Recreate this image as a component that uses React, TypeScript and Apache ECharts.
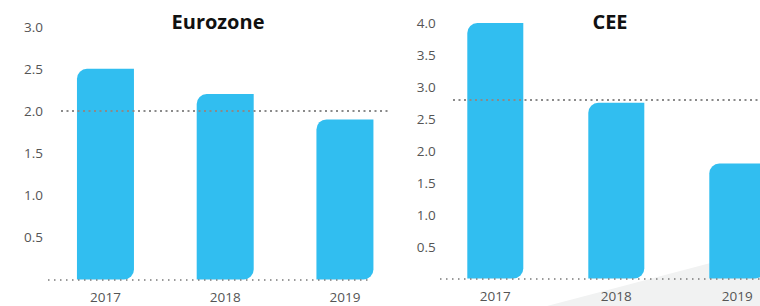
import React, { useEffect, useRef } from "react";
import * as echarts from "echarts";

// ---- data ----
const categories = ["2017", "2018", "2019"];
const eurozoneValues = [2.5, 2.2, 1.9];
const ceeValues = [4.0, 2.75, 1.8];
const eurozoneReference = 2.0;
const ceeReference = 2.8;
const eurozoneAxisMax = 3.0;
const ceeAxisMax = 4.0;
const tickStep = 0.5;
const panelTitles = ["Eurozone", "CEE"];

// ---- styles ----
const BAR_COLOR = "#31bef0";
const LABEL_COLOR = "#555555";
const FONT = "Open Sans";

export default function App() {
  const ref = useRef<HTMLDivElement>(null);

  useEffect(() => {
    if (!ref.current) return;
    const chart = echarts.init(ref.current, undefined, { renderer: "svg" });

    const yLabel = (margin: number) => ({
      margin,
      fontFamily: FONT,
      fontSize: 13.5,
      color: LABEL_COLOR,
      formatter: (v: number) => (v === 0 ? "" : v.toFixed(1)),
    });

    const refStyle = { color: "#8a8a8a", width: 2, type: [2, 3.5] };
    const baseStyle = { color: "#7a7a7a", width: 1.5, type: [1.5, 4.5] };

    const markLines = (
      value: number,
      r0: number,
      r1: number,
      b0: number,
      b1: number
    ) => ({
      symbol: "none",
      silent: true,
      label: { show: false },
      data: [
        [
          { x: r0, yAxis: value, lineStyle: refStyle },
          { x: r1, yAxis: value },
        ],
        [
          { x: b0, yAxis: 0, lineStyle: baseStyle },
          { x: b1, yAxis: 0 },
        ],
      ],
    });

    chart.setOption({
      animation: false,
      graphic: [
        {
          type: "polygon",
          z: -10,
          silent: true,
          shape: { points: [[547, 306], [760, 250], [760, 306]] },
          style: { fill: "#f1f2f2" },
        },
        {
          type: "text",
          x: 218,
          y: 21,
          style: {
            text: panelTitles[0],
            align: "center",
            verticalAlign: "middle",
            fontFamily: FONT,
            fontWeight: "bold",
            fontSize: 20,
            fill: "#111111",
          },
        },
        {
          type: "text",
          x: 610,
          y: 21,
          style: {
            text: panelTitles[1],
            align: "center",
            verticalAlign: "middle",
            fontFamily: FONT,
            fontWeight: "bold",
            fontSize: 20,
            fill: "#111111",
          },
        },
      ],
      grid: [
        { left: 45.6, width: 359.2, top: 26.7, bottom: 26.5, outerBoundsMode: "none", containLabel: false },
        { left: 434.8, width: 363, top: 23, bottom: 27.5, outerBoundsMode: "none", containLabel: false },
      ],
      xAxis: [0, 1].map((i) => ({
        type: "category",
        gridIndex: i,
        data: categories,
        axisLine: { show: false },
        axisTick: { show: false },
        axisLabel: { margin: 10, fontFamily: FONT, fontSize: 13.5, color: LABEL_COLOR },
      })),
      yAxis: [
        {
          type: "value",
          gridIndex: 0,
          min: 0,
          max: eurozoneAxisMax,
          interval: tickStep,
          splitLine: { show: false },
          axisLine: { show: false },
          axisTick: { show: false },
          axisLabel: yLabel(2.6),
        },
        {
          type: "value",
          gridIndex: 1,
          min: 0,
          max: ceeAxisMax,
          interval: tickStep,
          splitLine: { show: false },
          axisLine: { show: false },
          axisTick: { show: false },
          axisLabel: yLabel(-1),
        },
      ],
      series: [
        {
          type: "bar",
          xAxisIndex: 0,
          yAxisIndex: 0,
          data: eurozoneValues,
          barWidth: 57,
          itemStyle: { color: BAR_COLOR, borderRadius: [10, 0, 10, 0] },
          markLine: markLines(eurozoneReference, 61, 388, 48, 370),
        },
        {
          type: "bar",
          xAxisIndex: 1,
          yAxisIndex: 1,
          data: ceeValues,
          barWidth: 56,
          itemStyle: { color: BAR_COLOR, borderRadius: [10, 0, 10, 0] },
          markLine: markLines(ceeReference, 453, 760, 440, 760),
        },
      ],
    });

    return () => chart.dispose();
  }, []);

  return (
    <div
      ref={ref}
      style={{ position: "absolute", left: 0, top: 0, width: 760, height: 306 }}
    />
  );
}
